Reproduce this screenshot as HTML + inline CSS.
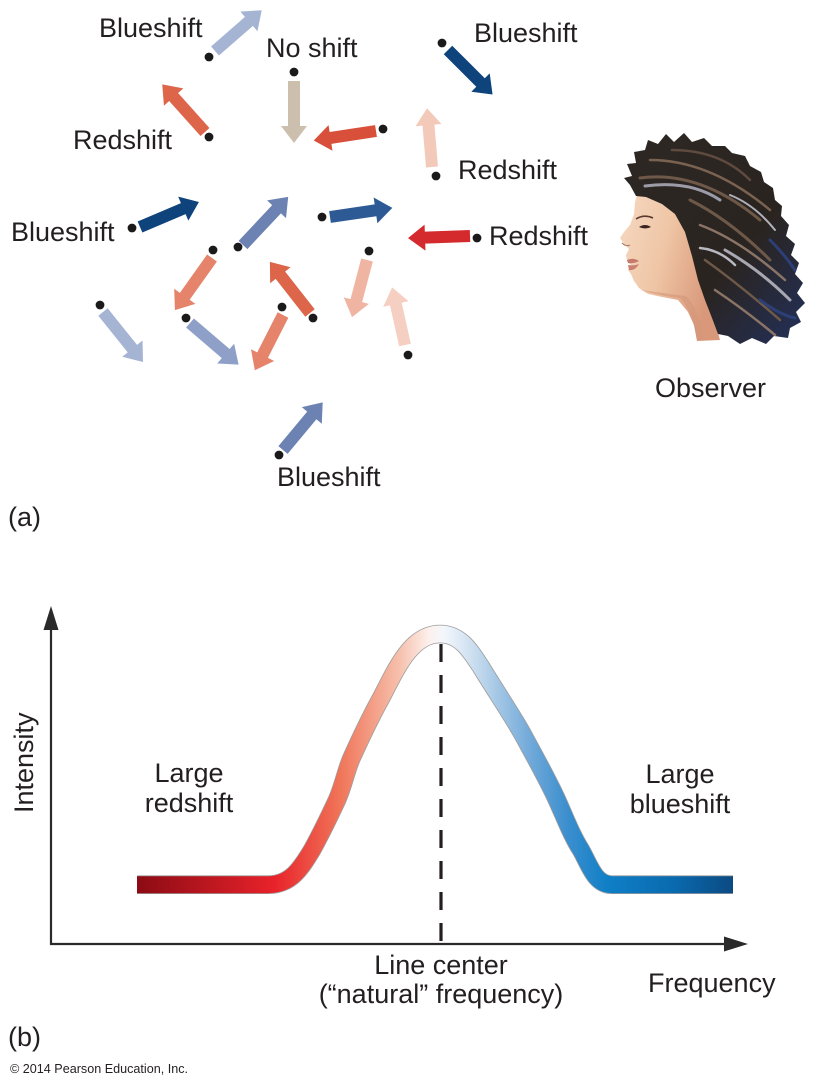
<!DOCTYPE html>
<html>
<head>
<meta charset="utf-8">
<style>
  html,body{margin:0;padding:0;background:#fff;}
  svg{display:block;}
  text{font-family:"Liberation Sans",Arial,sans-serif;fill:#231f20;}
</style>
</head>
<body>
<svg width="816" height="1088" viewBox="0 0 816 1088" xmlns="http://www.w3.org/2000/svg">
  <defs>
    <linearGradient id="band" gradientUnits="userSpaceOnUse" x1="137" y1="0" x2="733" y2="0">
      <stop offset="0" stop-color="#8c0b14"/>
      <stop offset="0.23" stop-color="#e8222a"/>
      <stop offset="0.34" stop-color="#f07458"/>
      <stop offset="0.44" stop-color="#f6c0ac"/>
      <stop offset="0.49" stop-color="#fdf0ec"/>
      <stop offset="0.515" stop-color="#f3f7fc"/>
      <stop offset="0.56" stop-color="#cfe0f0"/>
      <stop offset="0.65" stop-color="#7aaedb"/>
      <stop offset="0.72" stop-color="#3d8fce"/>
      <stop offset="0.79" stop-color="#0f7fc6"/>
      <stop offset="0.9" stop-color="#0a6aaf"/>
      <stop offset="1" stop-color="#0b4a82"/>
    </linearGradient>
    <linearGradient id="skin" x1="0" y1="0" x2="1" y2="0.4">
      <stop offset="0" stop-color="#f6d9c2"/>
      <stop offset="0.5" stop-color="#efc6a6"/>
      <stop offset="1" stop-color="#d9987a"/>
    </linearGradient>
    <linearGradient id="hair" x1="0" y1="0" x2="1" y2="1">
      <stop offset="0" stop-color="#2e2824"/>
      <stop offset="0.6" stop-color="#2a2420"/>
      <stop offset="1" stop-color="#22305a"/>
    </linearGradient>
  </defs>

  <!-- ===== Part (a) labels ===== -->
  <text x="99" y="37" font-size="27">Blueshift</text>
  <text x="266" y="57" font-size="27">No shift</text>
  <text x="474" y="42" font-size="27">Blueshift</text>
  <text x="73" y="149" font-size="27">Redshift</text>
  <text x="458" y="179" font-size="27">Redshift</text>
  <text x="11" y="241" font-size="27">Blueshift</text>
  <text x="489" y="245" font-size="27">Redshift</text>
  <text x="655" y="397" font-size="27">Observer</text>
  <text x="277" y="486" font-size="27">Blueshift</text>
  <text x="8" y="526" font-size="27">(a)</text>

  <!-- ===== Arrows ===== -->
  <g>
    <polygon transform="translate(215,51) rotate(-41.1)" points="0,-6 45,-6 45,-13 62,0 45,13 45,6 0,6" fill="#a6b4d4"/>
    <polygon transform="translate(205,132) rotate(-131.9)" points="0,-6 47,-6 47,-13 64,0 47,13 47,6 0,6" fill="#dd654a"/>
    <polygon transform="translate(140,227) rotate(-23)" points="0,-6 47,-6 47,-13 64,0 47,13 47,6 0,6" fill="#0e437b"/>
    <polygon transform="translate(294,81) rotate(90)" points="0,-6 45,-6 45,-13 62,0 45,13 45,6 0,6" fill="#cdbfae"/>
    <polygon transform="translate(448,50) rotate(45)" points="0,-6 46,-6 46,-13 63,0 46,13 46,6 0,6" fill="#0e437b"/>
    <polygon transform="translate(376,131) rotate(171.3)" points="0,-6 46,-6 46,-13 63,0 46,13 46,6 0,6" fill="#d9503a"/>
    <polygon transform="translate(432,167) rotate(-94.8)" points="0,-6 42,-6 42,-13 59,0 42,13 42,6 0,6" fill="#f3cab9"/>
    <polygon transform="translate(330,217) rotate(-8.3)" points="0,-6 46,-6 46,-13 63,0 46,13 46,6 0,6" fill="#2d5a95"/>
    <polygon transform="translate(470,236) rotate(178)" points="0,-6 45,-6 45,-13 62,0 45,13 45,6 0,6" fill="#d42a2e"/>
    <polygon transform="translate(243,245) rotate(-46.8)" points="0,-6 49,-6 49,-13 66,0 49,13 49,6 0,6" fill="#6c82b2"/>
    <polygon transform="translate(212,258) rotate(125.4)" points="0,-6 47,-6 47,-13 64,0 47,13 47,6 0,6" fill="#e5836b"/>
    <polygon transform="translate(103,312) rotate(51.3)" points="0,-6 47,-6 47,-13 64,0 47,13 47,6 0,6" fill="#a6b4d4"/>
    <polygon transform="translate(190,323) rotate(40.6)" points="0,-6 47,-6 47,-13 64,0 47,13 47,6 0,6" fill="#8e9fc8"/>
    <polygon transform="translate(283,315) rotate(117)" points="0,-6 45,-6 45,-13 62,0 45,13 45,6 0,6" fill="#e5836b"/>
    <polygon transform="translate(310,313) rotate(-128.1)" points="0,-6 48,-6 48,-13 65,0 48,13 48,6 0,6" fill="#dd654a"/>
    <polygon transform="translate(367,260) rotate(104.7)" points="0,-6 42,-6 42,-13 59,0 42,13 42,6 0,6" fill="#f0b5a2"/>
    <polygon transform="translate(405,345) rotate(-102.6)" points="0,-6 42,-6 42,-13 59,0 42,13 42,6 0,6" fill="#f5d0c2"/>
    <polygon transform="translate(283,450) rotate(-50.2)" points="0,-6 45,-6 45,-13 62,0 45,13 45,6 0,6" fill="#6c82b2"/>
  </g>

  <!-- ===== Dots ===== -->
  <g fill="#1a1a1a">
    <circle cx="209" cy="57" r="4.4"/>
    <circle cx="209" cy="137" r="4.4"/>
    <circle cx="132" cy="228" r="4.4"/>
    <circle cx="294" cy="72" r="4.4"/>
    <circle cx="442" cy="43" r="4.4"/>
    <circle cx="383" cy="129" r="4.4"/>
    <circle cx="436" cy="176" r="4.4"/>
    <circle cx="322" cy="217" r="4.4"/>
    <circle cx="477" cy="238" r="4.4"/>
    <circle cx="238" cy="247" r="4.4"/>
    <circle cx="213" cy="250" r="4.4"/>
    <circle cx="100" cy="305" r="4.4"/>
    <circle cx="186" cy="318" r="4.4"/>
    <circle cx="282" cy="307" r="4.4"/>
    <circle cx="313" cy="318" r="4.4"/>
    <circle cx="369" cy="251" r="4.4"/>
    <circle cx="408" cy="355" r="4.4"/>
    <circle cx="279" cy="455" r="4.4"/>
  </g>

  <!-- ===== Observer head ===== -->
  <g>
    <path d="M638,192 L660,196 L680,215 L695,250 L705,290 L716,325 L720,340 L697,341 L694,325 L688,312 L678,300 L662,297 L648,294 L639,288 L634,281 L631,274 L628,270 L631,265 L627,261 L626,255 L629,249 L624,244 L620,238 L624,232 L630,225 L634,214 L635,202 Z" fill="url(#skin)"/>
    <path d="M640,290 Q660,296 680,298 Q692,310 697,340 L703,340 Q698,306 686,296 Z" fill="#d4967a" opacity="0.6"/>
    <!-- eye & brow -->
    <path d="M639,227 Q645,223 651,227 Q645,230 639,227 Z" fill="#3a2520"/>
    <path d="M636,219 Q644,214 653,218" stroke="#5a3a30" stroke-width="1.6" fill="none"/>
    <!-- lips -->
    <path d="M627,260 Q633,257 639,261 Q634,264 628,263 Z" fill="#c77a6c"/>
    <path d="M628,265 Q634,266 639,264 Q635,271 629,270 Z" fill="#c98070"/>
    <path d="M622,243 Q626,247 630,245" stroke="#b07862" stroke-width="1.2" fill="none"/>
    <!-- hair -->
    <path d="M636,196 L630,185 L624,178 L632,176 L627,164 L636,163 L634,152 L645,150 L648,140 L658,144 L666,134 L674,142 L684,133 L692,142 L704,138 L712,146 L725,146 L732,153 L745,156 L750,166 L761,172 L764,182 L773,188 L775,200 L782,206 L781,216 L789,225 L786,236 L795,244 L791,255 L799,263 L795,274 L803,283 L797,293 L805,303 L796,312 L801,322 L790,328 L788,338 L774,336 L766,344 L752,338 L740,344 L728,336 L718,334 L712,318 L705,300 L698,280 L692,256 L685,232 L675,214 L662,204 L646,197 Z" fill="url(#hair)"/>
    <g fill="none" stroke-linecap="round">
      <path d="M640,178 Q700,170 760,220" stroke="#6e5848" stroke-width="3"/>
      <path d="M650,160 Q710,160 770,210" stroke="#7a6250" stroke-width="2.5"/>
      <path d="M645,186 Q690,180 720,200" stroke="#9c9ca8" stroke-width="3"/>
      <path d="M672,150 Q720,150 750,180" stroke="#5e4a3e" stroke-width="2.5"/>
      <path d="M690,200 Q730,220 770,260" stroke="#6e5848" stroke-width="3"/>
      <path d="M700,225 Q740,240 785,280" stroke="#8a7466" stroke-width="2.5"/>
      <path d="M725,250 Q760,270 790,300" stroke="#a8a8b2" stroke-width="3"/>
      <path d="M705,260 Q740,285 780,320" stroke="#6e5848" stroke-width="2.5"/>
      <path d="M715,290 Q745,310 775,335" stroke="#8a7466" stroke-width="2.5"/>
      <path d="M730,195 Q755,205 775,230" stroke="#b0b0ba" stroke-width="2"/>
      <path d="M700,248 Q720,250 735,265" stroke="#b8b8c0" stroke-width="2.5"/>
      <path d="M760,300 Q780,315 795,318" stroke="#2c3f76" stroke-width="3"/>
      <path d="M770,240 Q785,255 795,270" stroke="#2c3f76" stroke-width="3"/>
    </g>
  </g>

  <!-- ===== Part (b) graph ===== -->
  <!-- axes -->
  <line x1="51" y1="626" x2="51" y2="945" stroke="#2a2a2a" stroke-width="2.2"/>
  <polygon points="51,606 43.5,630 58.5,630" fill="#2a2a2a"/>
  <line x1="50" y1="944" x2="726" y2="944" stroke="#2a2a2a" stroke-width="2.2"/>
  <polygon points="748,944 724,936.5 724,951.5" fill="#2a2a2a"/>

  <!-- band -->
  <path d="M137,884.7 L268,884.7 C290,884.7 300,870 312,850 C322,832 330,815 337,800 C344,784 346,770 352,757 C362,735 370,718 380,700 C395,672 410,634 440,634 C460,634 470,650 481,667 C495,690 510,712 522,733 C535,757 548,780 557,800 C566,820 572,836 581,850 C590,866 595,884.7 612,884.7 L733,884.7" fill="none" stroke="#9c9c9c" stroke-width="18.6"/>
  <path d="M137,884.7 L268,884.7 C290,884.7 300,870 312,850 C322,832 330,815 337,800 C344,784 346,770 352,757 C362,735 370,718 380,700 C395,672 410,634 440,634 C460,634 470,650 481,667 C495,690 510,712 522,733 C535,757 548,780 557,800 C566,820 572,836 581,850 C590,866 595,884.7 612,884.7 L733,884.7" fill="none" stroke="url(#band)" stroke-width="17"/>

  <!-- dashed center line -->
  <line x1="441" y1="644" x2="441" y2="944" stroke="#231f20" stroke-width="3.2" stroke-dasharray="18 13"/>

  <!-- graph labels -->
  <text transform="translate(33,813) rotate(-90)" font-size="27">Intensity</text>
  <text x="189" y="782" font-size="27" text-anchor="middle">Large</text>
  <text x="189" y="812" font-size="27" text-anchor="middle">redshift</text>
  <text x="680" y="783" font-size="27" text-anchor="middle">Large</text>
  <text x="680" y="813" font-size="27" text-anchor="middle">blueshift</text>
  <text x="441" y="974" font-size="27" text-anchor="middle">Line center</text>
  <text x="441" y="1003" font-size="27" text-anchor="middle">(“natural” frequency)</text>
  <text x="648" y="992" font-size="27">Frequency</text>
  <text x="8" y="1046" font-size="27">(b)</text>
  <text x="10" y="1073" font-size="12.6">© 2014 Pearson Education, Inc.</text>
</svg>
</body>
</html>
